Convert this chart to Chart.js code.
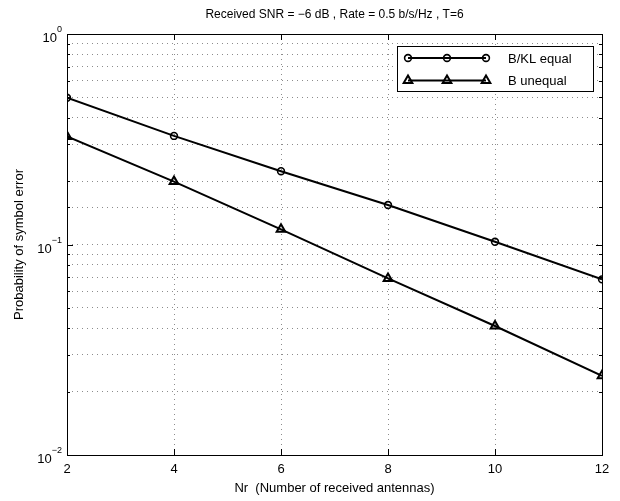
<!DOCTYPE html>
<html>
<head>
<meta charset="utf-8">
<script src="https://cdn.jsdelivr.net/npm/chart.js@4/dist/chart.umd.min.js"></script>
<style>
  html, body { margin: 0; padding: 0; background: #fff; }
  #wrap { width: 620px; height: 501px; }
</style>
</head>
<body>
<div id="wrap"><canvas id="perChart" width="620" height="501"></canvas></div>
<script>
// values
const nr = [2, 4, 6, 8, 10, 12];
const equalPe = [0.498, 0.328, 0.223, 0.154, 0.103, 0.0683];
const unequalPe = [0.326, 0.199, 0.118, 0.069, 0.041, 0.0238];
const seriesNames = ['B/KL equal', 'B unequal'];
const xTicks = [2, 4, 6, 8, 10, 12];
const yDecades = [-2, -1, 0];

const plotTitle = 'Received SNR = \u22126 dB , Rate = 0.5 b/s/Hz , T=6';
const FONT = '"Liberation Sans", Arial, Helvetica, sans-serif';

const isDecade = v => Math.abs(Math.log10(v) - Math.round(Math.log10(v))) < 1e-9;

function drawMarker(ctx, style, x, y) {
    ctx.beginPath();
    if (style === 'circle') {
        ctx.arc(x, y, 3.4, 0, Math.PI * 2);
    } else {
        const r = 5;
        for (let i = 0; i < 3; i++) {
            const a = i * 2 * Math.PI / 3;
            const px = x + Math.sin(a) * r, py = y - Math.cos(a) * r;
            i ? ctx.lineTo(px, py) : ctx.moveTo(px, py);
        }
        ctx.closePath();
    }
    ctx.stroke();
}

const matlabLook = {
    id: 'matlabLook',
    afterDraw(chart) {
        const { ctx, chartArea: a, scales } = chart;
        ctx.save();
        ctx.strokeStyle = '#000';
        ctx.fillStyle = '#000';
        ctx.lineWidth = 1;

        // inner tick marks
        ctx.beginPath();
        scales.y.ticks.forEach(t => {
            const y = Math.round(scales.y.getPixelForValue(t.value)) + 0.5;
            const len = isDecade(t.value) ? 6 : 3;
            ctx.moveTo(a.left, y); ctx.lineTo(a.left + len, y);
            ctx.moveTo(a.right, y); ctx.lineTo(a.right - len, y);
        });
        xTicks.forEach(v => {
            const x = Math.round(scales.x.getPixelForValue(v)) + 0.5;
            ctx.moveTo(x, a.bottom); ctx.lineTo(x, a.bottom - 6);
            ctx.moveTo(x, a.top); ctx.lineTo(x, a.top + 6);
        });
        ctx.stroke();

        // axes box
        ctx.strokeRect(Math.round(a.left) + 0.5, Math.round(a.top) + 0.5,
            Math.round(a.right - a.left), Math.round(a.bottom - a.top));

        // y tick labels 10^n
        yDecades.forEach(e => {
            const y = scales.y.getPixelForValue(Math.pow(10, e));
            const sup = e === 0 ? '0' : '\u2212' + Math.abs(e);
            ctx.font = '9px ' + FONT;
            const sw = ctx.measureText(sup).width;
            ctx.textBaseline = 'alphabetic';
            ctx.textAlign = 'left';
            const supX = a.left - 5 - sw;
            ctx.fillText(sup, supX, y - 2);
            ctx.font = '13px ' + FONT;
            ctx.textAlign = 'right';
            ctx.fillText('10', supX, y + 8);
        });

        // title
        ctx.font = '12px ' + FONT;
        ctx.textAlign = 'center';
        ctx.textBaseline = 'middle';
        ctx.fillText(plotTitle, (a.left + a.right) / 2, 15);

        // legend
        const bx = 397, by = 46, bw = 196, bh = 45;
        ctx.fillStyle = '#fff';
        ctx.fillRect(bx, by, bw, bh);
        ctx.strokeRect(bx + 0.5, by + 0.5, bw, bh);
        chart.data.datasets.forEach((ds, i) => {
            const y = by + 12 + i * 22.5;
            ctx.strokeStyle = ds.borderColor;
            ctx.lineWidth = 2;
            ctx.beginPath();
            ctx.moveTo(bx + 11, y); ctx.lineTo(bx + 89, y);
            ctx.stroke();
            ctx.lineWidth = ds.pointBorderWidth;
            [11, 50, 89].forEach(dx => drawMarker(ctx, ds.pointStyle, bx + dx, y));
            ctx.fillStyle = '#000';
            ctx.font = '13px ' + FONT;
            ctx.textAlign = 'left';
            ctx.textBaseline = 'middle';
            ctx.fillText(ds.label, bx + 111, y + 1);
        });
        ctx.restore();
    }
};

const gridDots = { color: '#8c8c8c', lineWidth: 1, drawTicks: false };

new Chart(document.getElementById('perChart'), {
    type: 'line',
    data: {
        datasets: [
            {
                label: seriesNames[0],
                data: nr.map((x, i) => ({ x, y: equalPe[i] })),
                borderColor: '#000',
                borderWidth: 2,
                pointStyle: 'circle',
                pointRadius: 3.4,
                pointBorderWidth: 1.6,
                pointBorderColor: '#000',
                pointBackgroundColor: 'rgba(0,0,0,0)',
                tension: 0
            },
            {
                label: seriesNames[1],
                data: nr.map((x, i) => ({ x, y: unequalPe[i] })),
                borderColor: '#000',
                borderWidth: 2,
                pointStyle: 'triangle',
                pointRadius: 5,
                pointBorderWidth: 2,
                pointBorderColor: '#000',
                pointBackgroundColor: 'rgba(0,0,0,0)',
                tension: 0
            }
        ]
    },
    options: {
        responsive: false,
        animation: false,
        devicePixelRatio: 1,
        layout: { padding: { top: 34, right: 18, left: 0, bottom: 0 } },
        plugins: {
            legend: { display: false },
            tooltip: { enabled: false },
            title: { display: false }
        },
        scales: {
            x: {
                type: 'linear',
                min: 2,
                max: 12,
                afterFit: s => { s.height = 46; },
                afterBuildTicks: s => { s.ticks = xTicks.map(v => ({ value: v })); },
                grid: gridDots,
                border: { display: false, dash: [1, 4] },
                ticks: {
                    color: '#000',
                    font: { family: FONT, size: 13 },
                    padding: 7,
                    maxRotation: 0
                },
                title: {
                    display: true,
                    text: 'Nr  (Number of received antennas)',
                    color: '#000',
                    font: { family: FONT, size: 13 },
                    padding: { top: 0, bottom: 5 }
                }
            },
            y: {
                type: 'logarithmic',
                min: 0.01,
                max: 1,
                afterFit: s => { s.width = 67; },
                grid: gridDots,
                border: { display: false, dash: [1, 4] },
                ticks: {
                    autoSkip: false,
                    callback: () => ''
                },
                title: {
                    display: true,
                    text: 'Probability of symbol error',
                    color: '#000',
                    font: { family: FONT, size: 13 },
                    padding: { top: 12, bottom: 0 }
                }
            }
        }
    },
    plugins: [matlabLook]
});
</script>
</body>
</html>
